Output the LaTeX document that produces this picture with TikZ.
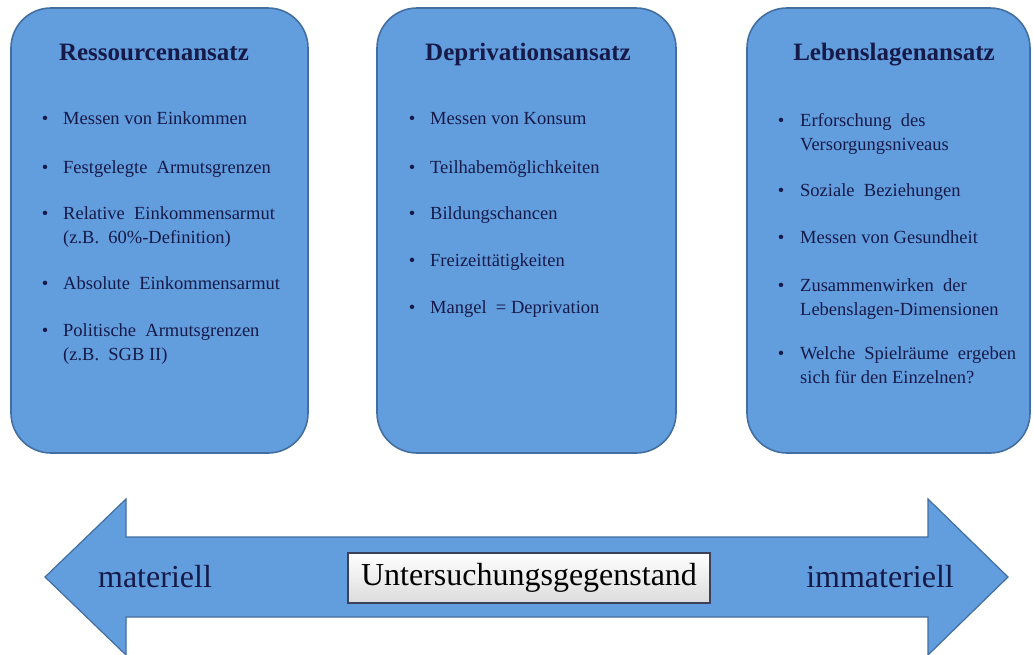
\documentclass[tikz,border=0pt]{standalone}
\usepackage{fontspec}
\setmainfont{Liberation Serif}
\definecolor{boxblue}{RGB}{98,157,222}
\definecolor{boxedge}{RGB}{66,110,160}
\definecolor{navy}{RGB}{22,26,72}
\definecolor{ugedge}{RGB}{60,64,90}
\newcommand\twolines[2]{\vtop{\hbox{#1}\hbox{#2}}}
\tikzset{
  panel/.style={draw=boxedge, line width=1.6pt, fill=boxblue, rounded corners=40pt},
  paneltitle/.style={anchor=base, inner sep=0pt, text=navy, font=\fontsize{25}{30}\selectfont\bfseries},
  bul/.style={anchor=base, inner sep=0pt, text=navy, font=\fontsize{18.5}{24}\selectfont},
  item/.style={anchor=base west, inner sep=0pt, text=navy, font=\fontsize{18.5}{24}\selectfont},
  biglabel/.style={anchor=base, inner sep=0pt, text=navy, font=\fontsize{32}{36}\selectfont},
  ugbox/.style={draw=ugedge, line width=1.2pt, top color=white, bottom color=black!14, inner xsep=13pt, inner ysep=0pt, minimum height=50pt, font=\fontsize{32}{36}\selectfont}
}
\begin{document}
\begin{tikzpicture}[x=1pt,y=-1pt]
\useasboundingbox (0,0) rectangle (1033,654);
% panels
\draw[panel] (11,8) rectangle (308,453);
\draw[panel] (377,8) rectangle (676,453);
\draw[panel] (747,8) rectangle (1030,453);
% titles
\node[paneltitle] (t1) at (154,60) {Ressourcenansatz};
\node[paneltitle] (t2) at (528,60) {Deprivationsansatz};
\node[paneltitle] (t3) at (894,60) {Lebenslagenansatz};
% left items
\foreach \y/\n in {124/a1,173/a2,219/a3,289/a4,336/a5}{\node[bul] (b\n) at (45,\y) {•};}
\node[item] (a1) at (63,124) {Messen von Einkommen};
\node[item] (a2) at (63,173) {Festgelegte \ Armutsgrenzen};
\node[item] (a3) at (63,219) {\twolines{Relative \ Einkommensarmut}{(z.B. \ 60\%-Definition)}};
\node[item] (a4) at (63,289) {Absolute \ Einkommensarmut};
\node[item] (a5) at (63,336) {\twolines{Politische \ Armutsgrenzen}{(z.B. \ SGB II)}};
% middle items
\foreach \y/\n in {124/m1,173/m2,219/m3,266/m4,313/m5}{\node[bul] (b\n) at (412,\y) {•};}
\node[item] (m1) at (430,124) {Messen von Konsum};
\node[item] (m2) at (430,173) {Teilhabemöglichkeiten};
\node[item] (m3) at (430,219) {Bildungschancen};
\node[item] (m4) at (430,266) {Freizeittätigkeiten};
\node[item] (m5) at (430,313) {Mangel \ = Deprivation};
% right items
\foreach \y/\n in {126/r1,196/r2,243/r3,291/r4,359/r5}{\node[bul] (b\n) at (781,\y) {•};}
\node[item] (r1) at (800,126) {\twolines{Erforschung \ des}{Versorgungsniveaus}};
\node[item] (r2) at (800,196) {Soziale \ Beziehungen};
\node[item] (r3) at (800,243) {Messen von Gesundheit};
\node[item] (r4) at (800,291) {\twolines{Zusammenwirken \ der}{Lebenslagen-Dimensionen}};
\node[item] (r5) at (800,359) {\twolines{Welche \ Spielräume \ ergeben}{sich für den Einzelnen?}};
% double arrow
\draw[draw=boxedge, line width=1.2pt, fill=boxblue, line join=miter]
  (45,577) -- (126,499) -- (126,537) -- (928,537) -- (928,499) -- (1008,577)
  -- (928,655) -- (928,617) -- (126,617) -- (126,655) -- cycle;
\node[biglabel] (mat) at (155,587) {materiell};
\node[biglabel] (imm) at (880,587) {immateriell};
\node[ugbox] (ug) at (529,578) {Untersuchungsgegenstand};
\end{tikzpicture}
\end{document}
